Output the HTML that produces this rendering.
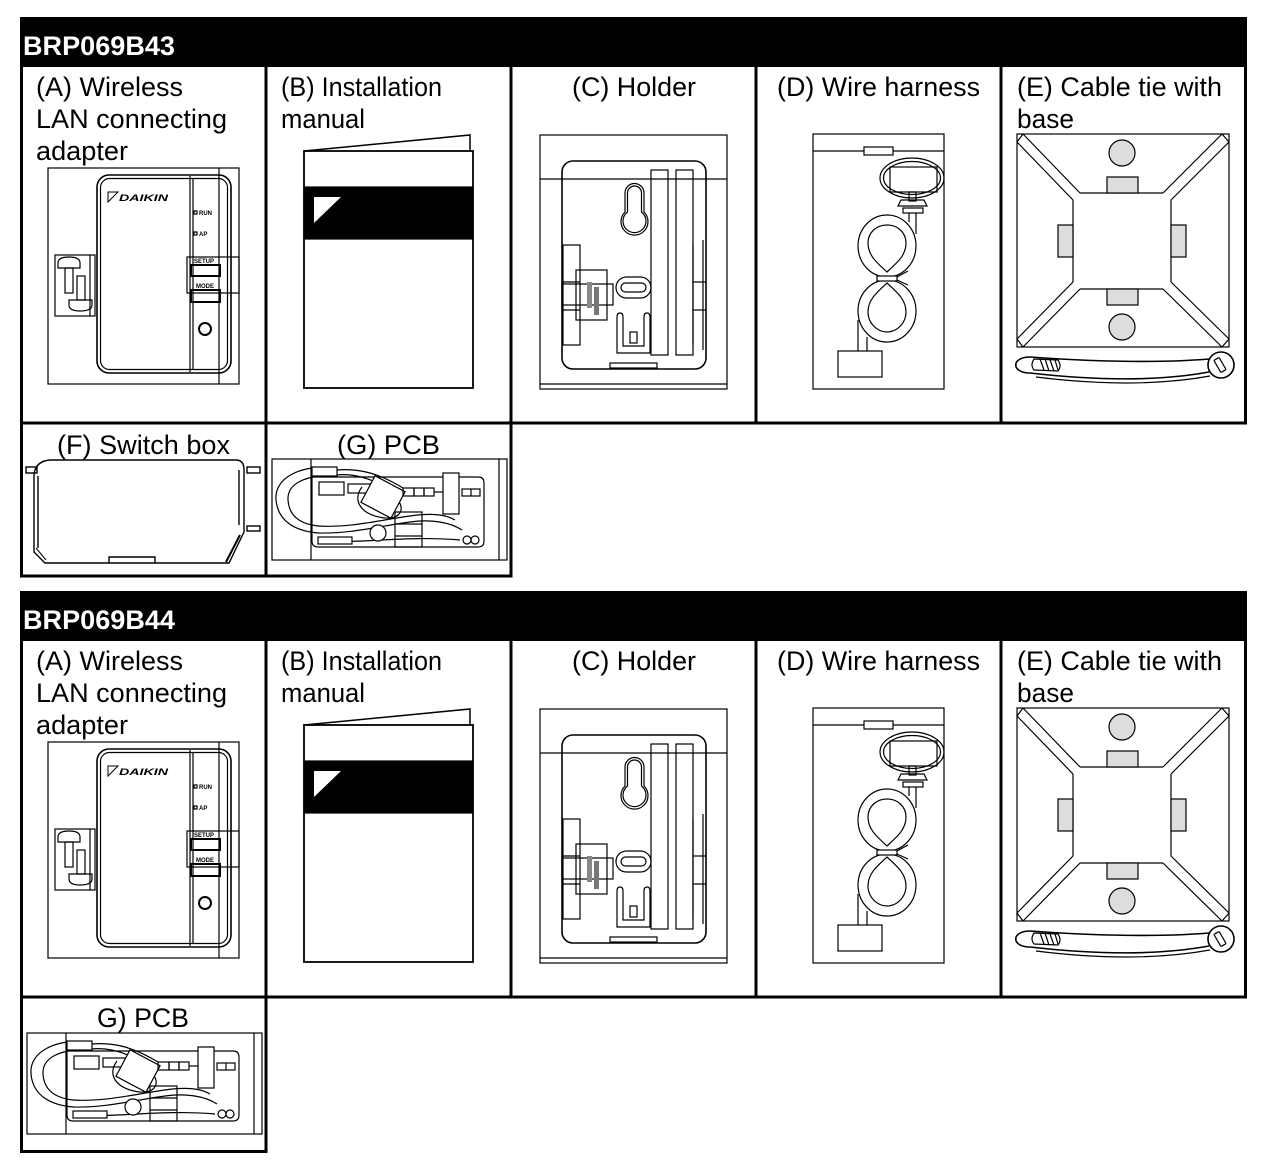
<!DOCTYPE html>
<html><head><meta charset="utf-8"><style>
html,body{margin:0;padding:0;background:#fff;}
svg{display:block;}
text{font-family:"Liberation Sans",Arial,sans-serif;}
</style></head><body>
<svg width="1275" height="1162" viewBox="0 0 1275 1162" xmlns="http://www.w3.org/2000/svg">
<defs>
<g id="row1" fill="none" stroke="#000" stroke-width="1.2">
  <!-- A adapter -->
  <rect x="48" y="168" width="191" height="216"/>
  <line x1="219" y1="168" x2="219" y2="384"/>
  <rect x="97" y="175" width="134" height="198" rx="12" stroke-width="1.6"/>
  <rect x="100.5" y="178.5" width="127" height="191" rx="9"/>
  <line x1="190" y1="176" x2="190" y2="372"/>
  <line x1="193" y1="178" x2="193" y2="370"/>
  <rect x="187" y="257" width="52" height="36"/>
  <rect x="191" y="265" width="29" height="11" stroke-width="2"/>
  <rect x="191" y="290" width="29" height="12" stroke-width="2"/>
  <circle cx="205" cy="329" r="6" stroke-width="2"/>
  <rect x="194" y="211" width="3" height="3"/>
  <rect x="194" y="232" width="3" height="3"/>
  <polygon points="108,192 118,192 108,202" stroke-width="1"/>
  <rect x="55" y="255" width="40" height="61"/>
  <line x1="90" y1="255" x2="90" y2="316"/>
  <path d="M58,268 L58,263 Q58,257 69,257 Q80,257 80,263 L80,268 Z"/>
  <rect x="65" y="268" width="8" height="25"/>
  <rect x="77" y="276" width="8" height="24"/>
  <path d="M69,300 L92,300 L92,305 Q92,311 80,311 Q69,311 69,305 Z"/>
  <!-- B manual -->
  <polyline points="304,151 470,135 470,151" stroke-width="1.5"/>
  <rect x="304" y="151" width="169" height="237" stroke-width="1.8"/>
  <rect x="304" y="187" width="169" height="52" fill="#000"/>
  <polygon points="314,197 341,197 314,223" fill="#fff" stroke="none"/>
  <!-- C holder -->
  <rect x="540" y="135" width="187" height="254"/>
  <line x1="540" y1="179" x2="727" y2="179"/>
  <line x1="540" y1="384" x2="727" y2="384"/>
  <rect x="562" y="161" width="144" height="208" rx="11" stroke-width="1.6"/>
  <rect x="651" y="170" width="17" height="185"/>
  <rect x="676" y="170" width="17" height="185"/>
  <path d="M627.5,212 L627.5,193 A7,7 0 0 1 641.5,193 L641.5,212 A11.5,11.5 0 1 1 627.5,212 Z"/>
  <path d="M625,212 L625,193 A9.5,9.5 0 0 1 644,193 L644,212 A13.5,13.5 0 1 1 625,212 Z"/>
  <rect x="616" y="277" width="35" height="21" rx="10.5"/>
  <rect x="621" y="283" width="25" height="9" rx="4.5"/>
  <path d="M617,353 L617,317 Q617,313 620,313 Q623,313 623,317 L623,346 L644,346 L644,317 Q644,313 647,313 Q650,313 650,317 L650,353 Z"/>
  <rect x="630" y="332" width="7" height="11"/>
  <rect x="563" y="245" width="17" height="100"/>
  <line x1="562" y1="282" x2="580" y2="282"/>
  <line x1="562" y1="310" x2="580" y2="310"/>
  <rect x="576" y="270" width="31" height="50"/>
  <rect x="562" y="284" width="51" height="21"/>
  <rect x="587" y="282" width="5" height="26" fill="#888" stroke="none"/>
  <rect x="594" y="287" width="5" height="28" fill="#777" stroke="none"/>
  <line x1="693" y1="245" x2="693" y2="345"/>
  <line x1="693" y1="282" x2="706" y2="282"/>
  <line x1="693" y1="310" x2="706" y2="310"/>
  <line x1="703" y1="240" x2="703" y2="350"/>
  <rect x="610" y="363" width="47" height="5"/>
  <!-- D wire harness -->
  <rect x="813" y="134" width="131" height="255"/>
  <line x1="813" y1="151" x2="944" y2="151"/>
  <rect x="864" y="147" width="29" height="8" fill="#fff"/>
  <ellipse cx="912" cy="178" rx="32" ry="20"/>
  <ellipse cx="912" cy="178" rx="28.5" ry="16.5"/>
  <rect x="890" y="167" width="47" height="25"/>
  <rect x="909" y="192" width="7" height="9"/>
  <path d="M898,206 L901,200 L924,200 L927,206 Z"/>
  <rect x="903" y="208" width="20" height="5"/>
  <line x1="909" y1="213" x2="909" y2="222"/>
  <line x1="916" y1="213" x2="916" y2="234"/>
  <line x1="858" y1="320" x2="858" y2="351"/>
  <line x1="867" y1="337" x2="867" y2="351"/>
  <ellipse cx="887" cy="246" rx="29" ry="31" fill="#fff"/>
  <path d="M887,272 C876,262 868,255 868,243 C868,232 877,225 887,225 C897,225 906,232 906,243 C906,255 898,262 887,272 Z"/>
  <ellipse cx="887" cy="311" rx="29" ry="31" fill="#fff"/>
  <path d="M887,283 C876,293 868,300 868,312 C868,323 877,332 887,332 C897,332 906,323 906,312 C906,300 898,293 887,283 Z"/>
  <line x1="897" y1="277" x2="908" y2="271"/>
  <line x1="897" y1="280" x2="908" y2="285"/>
  <rect x="877" y="276" width="20" height="5" fill="#fff"/>
  <rect x="838" y="351" width="44" height="26" fill="#fff"/>
  <!-- E cable tie base -->
  <rect x="1017" y="134" width="212" height="213"/>
  <path d="M1080,193 L1163,193 M1171,200 L1171,282 M1163,289 L1080,289 M1073,282 L1073,200"/>
  <path d="M1080,193 L1023,134 M1073,200 L1017,142 M1163,193 L1222,134 M1171,200 L1229,142 M1171,282 L1229,339 M1163,289 L1222,347 M1073,282 L1017,339 M1080,289 L1023,347"/>
  <path d="M1017,142 L1023,134 M1222,134 L1229,142 M1229,339 L1222,347 M1023,347 L1017,339"/>
  <circle cx="1122" cy="153" r="13" fill="#ddd"/>
  <circle cx="1122" cy="327" r="13" fill="#ddd"/>
  <rect x="1107" y="177" width="31" height="16" fill="#ddd"/>
  <rect x="1107" y="289" width="31" height="16" fill="#ddd"/>
  <rect x="1058" y="225" width="15" height="32" fill="#ddd"/>
  <rect x="1171" y="225" width="15" height="32" fill="#ddd"/>
  <!-- cable tie -->
  <path d="M1030,357 C1100,362 1160,363 1209,359" stroke-width="1.6"/>
  <path d="M1030,373 C1100,381 1160,381 1209,372" stroke-width="1.6"/>
  <path d="M1036,377 C1100,385 1160,385 1210,376"/>
  <path d="M1030,357 C1011,357 1011,373 1030,373" stroke-width="1.6"/>
  <path d="M1034,359 L1058,360 Q1062,366 1058,371 L1034,370 Q1030,365 1034,359 Z"/>
  <path d="M1040,359 L1044,370 M1045,359 L1049,371 M1050,360 L1054,371 M1055,360 L1058,370"/>
  <circle cx="1221" cy="365" r="13" fill="#fff" stroke-width="1.6"/>
  <rect x="1217" y="358" width="6" height="14" rx="1" transform="rotate(-30 1220 365)"/>
</g>
<g id="pcb" fill="none" stroke="#000" stroke-width="1.2">
  <rect x="272" y="459" width="235" height="101"/>
  <line x1="311" y1="459" x2="311" y2="560"/>
  <line x1="499" y1="459" x2="499" y2="560"/>
  <path d="M312,477 L478,477 Q484,477 484,483 L484,541 Q484,547 478,547 L318,547 Q312,547 312,541 Z"/>
  <rect x="319" y="482" width="25" height="13"/>
  <rect x="348" y="484" width="22" height="9"/>
  <path d="M337,468 C300,464 274,478 276,500 C278,522 296,531 318,533"/>
  <path d="M337,476 C305,474 287,484 288,500 C289,516 300,524 318,526"/>
  <rect x="312" y="467" width="25" height="9" fill="#fff"/>
  <path d="M318,533 C350,534 380,526 410,522 C430,519 450,522 462,530"/>
  <path d="M318,526 C350,528 380,520 410,516 C430,513 445,514 455,520"/>
  <path d="M318,540 C360,545 400,535 460,540"/>
  <rect x="318" y="537" width="34" height="7" fill="#fff"/>
  <circle cx="378" cy="533" r="8" fill="#fff"/>
  <rect x="395" y="512" width="27" height="35"/>
  <line x1="395" y1="524" x2="422" y2="524"/>
  <line x1="395" y1="536" x2="422" y2="536"/>
  <path d="M337,470 C360,468 380,474 403,488"/>
  <path d="M337,475 C355,473 375,480 395,492"/>
  <path d="M362,487 C352,500 360,515 385,518 C400,519 405,510 398,500"/>
  <rect x="366" y="482" width="34" height="30" transform="rotate(28 383 497)" fill="#fff"/>
  <rect x="403" y="488" width="11" height="8"/>
  <rect x="414" y="488" width="10" height="8"/>
  <rect x="424" y="488" width="10" height="8"/>
  <line x1="434" y1="492" x2="443" y2="492"/>
  <rect x="443" y="473" width="16" height="41" fill="#fff"/>
  <rect x="462" y="489" width="18" height="7"/>
  <line x1="471" y1="489" x2="471" y2="496"/>
  <circle cx="467" cy="540" r="4"/>
  <circle cx="475" cy="540" r="4"/>
</g>
</defs>

<rect x="0" y="0" width="1275" height="1162" fill="#fff"/>

<!-- ===== Section 1 ===== -->
<rect x="20" y="17" width="1227" height="50" fill="#000"/>
<text x="23" y="55" font-size="27" font-weight="bold" fill="#fff" textLength="152" lengthAdjust="spacingAndGlyphs">BRP069B43</text>
<g stroke="#000" stroke-width="3" fill="none">
  <line x1="21.5" y1="66" x2="21.5" y2="577.5"/>
  <line x1="266" y1="66" x2="266" y2="577.5"/>
  <line x1="511" y1="66" x2="511" y2="577.5"/>
  <line x1="756" y1="66" x2="756" y2="424.5"/>
  <line x1="1001" y1="66" x2="1001" y2="424.5"/>
  <line x1="1245.5" y1="66" x2="1245.5" y2="424.5"/>
  <line x1="20" y1="423" x2="1247" y2="423"/>
  <line x1="20" y1="576" x2="512.5" y2="576"/>
</g>
<use href="#row1"/>
<use href="#pcb"/>
<g font-size="27" fill="#000">
  <text x="36" y="96" textLength="147" lengthAdjust="spacingAndGlyphs">(A) Wireless</text>
  <text x="36" y="128" textLength="191" lengthAdjust="spacingAndGlyphs">LAN connecting</text>
  <text x="36" y="160" textLength="92" lengthAdjust="spacingAndGlyphs">adapter</text>
  <text x="281" y="96" textLength="161" lengthAdjust="spacingAndGlyphs">(B) Installation</text>
  <text x="281" y="128" textLength="84" lengthAdjust="spacingAndGlyphs">manual</text>
  <text x="572" y="96" textLength="124" lengthAdjust="spacingAndGlyphs">(C) Holder</text>
  <text x="777" y="96" textLength="203" lengthAdjust="spacingAndGlyphs">(D) Wire harness</text>
  <text x="1017" y="96" textLength="205" lengthAdjust="spacingAndGlyphs">(E) Cable tie with</text>
  <text x="1017" y="128" textLength="57" lengthAdjust="spacingAndGlyphs">base</text>
  <text x="57" y="454" textLength="173" lengthAdjust="spacingAndGlyphs">(F) Switch box</text>
  <text x="337" y="454" textLength="103" lengthAdjust="spacingAndGlyphs">(G) PCB</text>
</g>
<g fill="#000" font-weight="bold">
  <text x="119" y="201" font-size="9" font-style="italic" textLength="49" lengthAdjust="spacingAndGlyphs">DAIKIN</text>
  <text x="199" y="215" font-size="6">RUN</text>
  <text x="199" y="236" font-size="6">AP</text>
  <text x="194" y="263" font-size="6">SETUP</text>
  <text x="196" y="288" font-size="6">MODE</text>
</g>
<!-- F switch box -->
<g fill="none" stroke="#000" stroke-width="1.4">
  <path d="M34,552 L34,474 Q36,461 50,460 L236,460 Q244,460 244,470 L244,532 L229,563 L45,563 Z"/>
  <path d="M38,548 L38,476"/>
  <line x1="239" y1="470" x2="239" y2="525"/>
  <path d="M240,535 L226,562" stroke-width="2"/>
  <path d="M36,548 L46,560" stroke-width="1"/>
  <rect x="26" y="467" width="11" height="6"/>
  <rect x="247" y="467" width="13" height="6"/>
  <rect x="247" y="526" width="13" height="5"/>
  <path d="M109,563 L109,557 L155,557 L155,563"/>
</g>

<!-- ===== Section 2 ===== -->
<rect x="20" y="591" width="1227" height="50" fill="#000"/>
<text x="23" y="629" font-size="27" font-weight="bold" fill="#fff" textLength="152" lengthAdjust="spacingAndGlyphs">BRP069B44</text>
<g stroke="#000" stroke-width="3" fill="none">
  <line x1="21.5" y1="640" x2="21.5" y2="1153"/>
  <line x1="266" y1="640" x2="266" y2="1153"/>
  <line x1="511" y1="640" x2="511" y2="998.5"/>
  <line x1="756" y1="640" x2="756" y2="998.5"/>
  <line x1="1001" y1="640" x2="1001" y2="998.5"/>
  <line x1="1245.5" y1="640" x2="1245.5" y2="998.5"/>
  <line x1="20" y1="997" x2="1247" y2="997"/>
  <line x1="20" y1="1151.5" x2="267.5" y2="1151.5"/>
</g>
<use href="#row1" transform="translate(0,574)"/>
<use href="#pcb" transform="translate(-245,574)"/>
<g font-size="27" fill="#000">
  <text x="36" y="670" textLength="147" lengthAdjust="spacingAndGlyphs">(A) Wireless</text>
  <text x="36" y="702" textLength="191" lengthAdjust="spacingAndGlyphs">LAN connecting</text>
  <text x="36" y="734" textLength="92" lengthAdjust="spacingAndGlyphs">adapter</text>
  <text x="281" y="670" textLength="161" lengthAdjust="spacingAndGlyphs">(B) Installation</text>
  <text x="281" y="702" textLength="84" lengthAdjust="spacingAndGlyphs">manual</text>
  <text x="572" y="670" textLength="124" lengthAdjust="spacingAndGlyphs">(C) Holder</text>
  <text x="777" y="670" textLength="203" lengthAdjust="spacingAndGlyphs">(D) Wire harness</text>
  <text x="1017" y="670" textLength="205" lengthAdjust="spacingAndGlyphs">(E) Cable tie with</text>
  <text x="1017" y="702" textLength="57" lengthAdjust="spacingAndGlyphs">base</text>
  <text x="97" y="1027" textLength="92" lengthAdjust="spacingAndGlyphs">G) PCB</text>
</g>
<g fill="#000" font-weight="bold">
  <text x="119" y="775" font-size="9" font-style="italic" textLength="49" lengthAdjust="spacingAndGlyphs">DAIKIN</text>
  <text x="199" y="789" font-size="6">RUN</text>
  <text x="199" y="810" font-size="6">AP</text>
  <text x="194" y="837" font-size="6">SETUP</text>
  <text x="196" y="862" font-size="6">MODE</text>
</g>
</svg>
</body></html>
